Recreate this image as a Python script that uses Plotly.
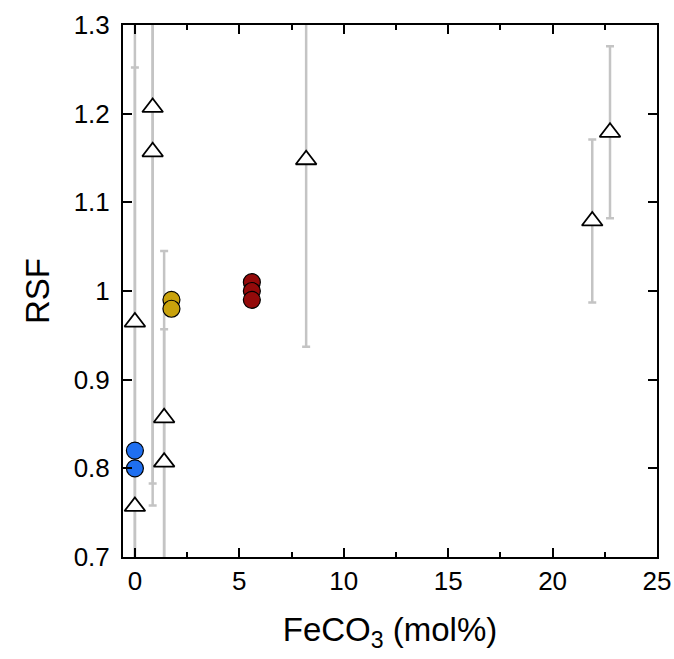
import plotly.graph_objects as go

# Open triangles with error bars
tri_x = [0.0, 0.0, 0.85, 0.85, 1.4, 1.4, 8.2, 21.9, 22.75]
tri_y = [0.965, 0.757, 1.207, 1.157, 0.857, 0.807, 1.148, 1.079, 1.179]
tri_err = [0.287, 0.60, 0.449, 0.374, 0.188, 0.15, 0.211, 0.092, 0.097]

# Filled circles
blue_x = [0.0, 0.0]
blue_y = [0.82, 0.80]
gold_x = [1.75, 1.75]
gold_y = [0.99, 0.98]
red_x = [5.6, 5.6, 5.6]
red_y = [1.01, 1.0, 0.99]

y_ticks = [0.7, 0.8, 0.9, 1.0, 1.1, 1.2, 1.3]
y_ticktext = ["0.7", "0.8", "0.9", "1", "1.1", "1.2", "1.3"]
x_ticks = [0, 5, 10, 15, 20, 25]

FONT = "Liberation Sans, Arial, sans-serif"

fig = go.Figure()
fig.add_trace(go.Scatter(
    x=tri_x, y=tri_y, mode="markers",
    marker=dict(symbol="triangle-up", size=18, color="white",
                line=dict(color="black", width=1.8)),
    error_y=dict(type="data", array=tri_err, visible=True,
                 color="#c4c4c4", thickness=2.5, width=4),
    showlegend=False, cliponaxis=True))
for xs, ys, col in [(blue_x, blue_y, "#1f6ff0"), (gold_x, gold_y, "#c9a20c"), (red_x, red_y, "#940a0a")]:
    fig.add_trace(go.Scatter(
        x=xs, y=ys, mode="markers",
        marker=dict(symbol="circle", size=17, color=col,
                    line=dict(color="black", width=1.2)),
        showlegend=False))

axis_common = dict(showline=True, linecolor="black", linewidth=2, mirror="ticks",
                   ticks="inside", tickcolor="black", tickwidth=2, ticklen=9,
                   showgrid=False, zeroline=False, automargin=False,
                   tickfont=dict(family=FONT, size=26, color="black"))

fig.update_xaxes(range=[-0.57, 25], tickvals=x_ticks,
                 minor=dict(dtick=2.5, tick0=0, ticks="inside", ticklen=5, tickwidth=2, tickcolor="black"),
                 title=dict(text="FeCO<sub>3</sub> (mol%)", font=dict(family=FONT, size=33, color="black"), standoff=23),
                 **axis_common)
fig.update_yaxes(range=[0.7, 1.3], tickvals=y_ticks, ticktext=y_ticktext, ticklabelstandoff=6,
                 title=dict(text="RSF", font=dict(family=FONT, size=33, color="black"), standoff=14),
                 **axis_common)

fig.update_layout(width=674, height=659, margin=dict(l=123, r=17, t=25, b=102),
                  plot_bgcolor="white", paper_bgcolor="white",
                  font=dict(family=FONT, color="black"))

fig.write_html("out.html", config={"displayModeBar": False},
               post_script="document.body.style.margin='0';document.body.style.overflow='hidden';")
